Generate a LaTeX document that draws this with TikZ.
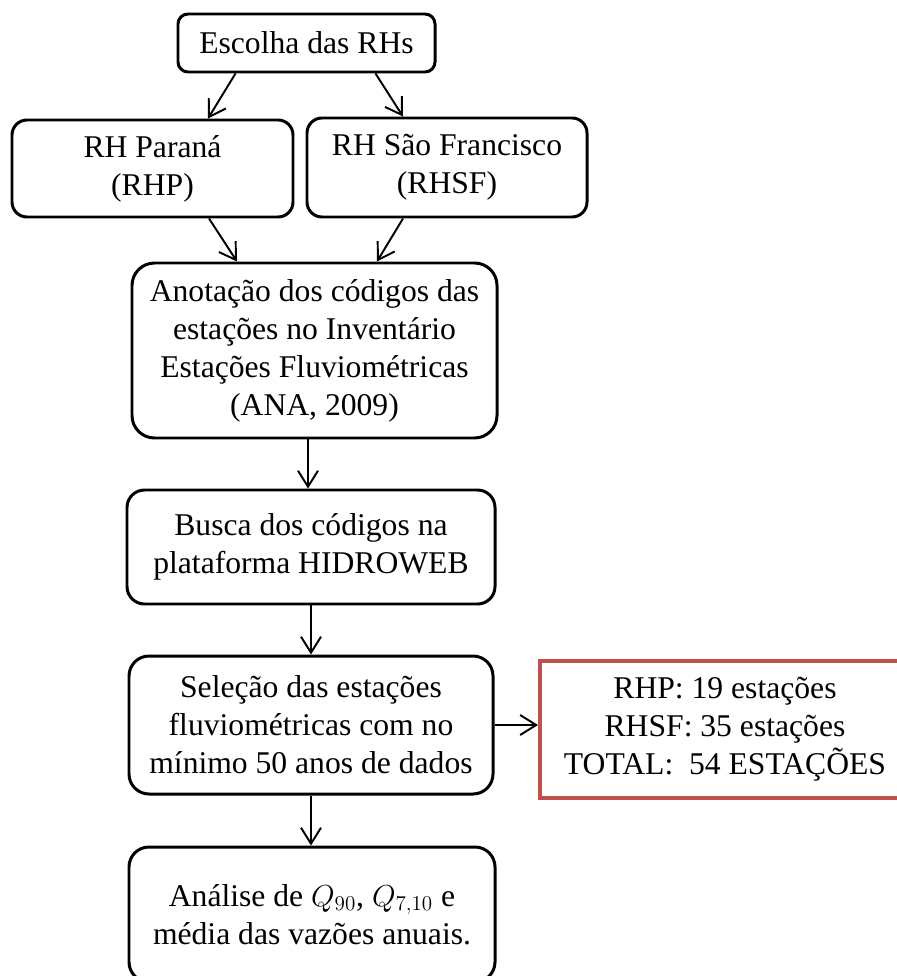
\documentclass[tikz,border=0pt]{standalone}
\usepackage{fontspec}
\setmainfont{Liberation Serif}
\usetikzlibrary{arrows.meta}
\definecolor{vermelho}{RGB}{192,80,77}

\begin{document}
\begin{tikzpicture}[
       caixa/.style={
         draw,
         line width=1.7pt,
         rounded corners=0.3cm,
         align=center,
         inner sep=0pt,
         font=\fontsize{18}{21.6}\selectfont
       },
       destaque/.style={
         draw=vermelho,
         line width=2.3pt,
         align=center,
         inner sep=0pt,
         font=\fontsize{18}{21.6}\selectfont
       },
       seta/.style={
         line width=1.1pt,
         -{Straight Barb[length=0.32cm,width=0.4cm]}
       }
     ]

       \useasboundingbox (0,0) rectangle (17.92,-19.52);

       \node (esc) at (6.13,-0.86) [caixa, minimum width=5.14cm, minimum height=1.16cm, rounded corners=0.2cm]{Escolha das RHs};

       \node (rhp) at (3.05,-3.37) [caixa, minimum width=5.62cm, minimum height=1.94cm]{RH Paraná\\(RHP)};
       \node (rhsf) at (8.94,-3.35) [caixa, minimum width=5.6cm, minimum height=1.98cm]{RH São Francisco\\(RHSF)};

       \node (ano) at (6.29,-7.01) [caixa, minimum width=7.3cm, minimum height=3.5cm, rounded corners=0.45cm]{Anotação dos códigos das\\estações no Inventário\\Estações Fluviométricas\\(ANA, 2009)};
       \node (bus) at (6.22,-10.94) [caixa, minimum width=7.36cm, minimum height=2.28cm, rounded corners=0.35cm]{Busca dos códigos na\\plataforma HIDROWEB};
       \node (sel) at (6.22,-14.5) [caixa, minimum width=7.28cm, minimum height=2.76cm, rounded corners=0.4cm]{Seleção das estações\\fluviométricas com no\\mínimo 50 anos de dados};
       \node (ana) at (6.24,-18.29) [caixa, minimum width=7.32cm, minimum height=2.7cm, rounded corners=0.4cm]{Análise de $Q_{90}$, $Q_{7,10}$ e\\média das vazões anuais.};

       \node (res) at (14.5,-14.59) [destaque, minimum width=7.4cm, minimum height=2.74cm]{RHP: 19 estações\\RHSF: 35 estações\\TOTAL:\ \ 54 ESTAÇÕES};

       \draw [seta] ([xshift=1.18cm]esc.south west) -- ([xshift=1.11cm]rhp.north);
       \draw [seta] ([xshift=-1.22cm]esc.south east) -- ([xshift=-0.88cm]rhsf.north);

       \draw [seta] ([xshift=1.13cm]rhp.south) -- ([xshift=-1.55cm]ano.north);
       \draw [seta] ([xshift=-0.88cm]rhsf.south) -- ([xshift=1.25cm]ano.north);

       \draw [seta] ([xshift=-0.13cm]ano.south) -- ([xshift=-0.13cm]ano.south |- bus.north);
       \draw [seta] (bus.south) -- (sel.north);
       \draw [seta] (sel.south) -- (sel.south |- ana.north);
       \draw [seta] (sel.east) -- (sel.east -| res.west);

\end{tikzpicture}
\end{document}
